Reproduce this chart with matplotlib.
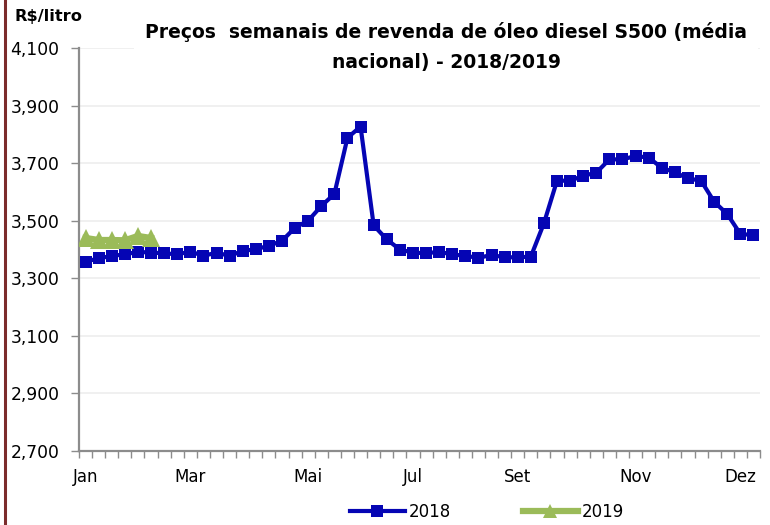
import matplotlib
matplotlib.use("Agg")
import matplotlib.pyplot as plt
from matplotlib.ticker import FixedLocator, FuncFormatter
from matplotlib.lines import Line2D

# Data (R$/litro), weekly
prices_2018 = [3.358, 3.369, 3.378, 3.383, 3.392, 3.389, 3.387, 3.383, 3.393, 3.378,
               3.389, 3.378, 3.395, 3.401, 3.413, 3.430, 3.476, 3.500, 3.551, 3.593,
               3.788, 3.827, 3.484, 3.435, 3.400, 3.389, 3.387, 3.392, 3.383, 3.378,
               3.371, 3.381, 3.373, 3.373, 3.375, 3.491, 3.639, 3.639, 3.656, 3.667,
               3.713, 3.713, 3.725, 3.719, 3.684, 3.668, 3.647, 3.639, 3.566, 3.523,
               3.454, 3.450]
prices_2019 = [3.440, 3.433, 3.433, 3.432, 3.447, 3.440]
month_labels = ["Jan", "Mar", "Mai", "Jul", "Set", "Nov", "Dez"]
month_weeks = [0, 8, 17, 25, 33, 42, 50]
y_ticks = [2.7, 2.9, 3.1, 3.3, 3.5, 3.7, 3.9, 4.1]

FONT = "DejaVu Sans"
BLUE = "#0505B4"
GREEN = "#9BBB59"
GRAY = "#8C8C8C"
plt.rcParams["font.family"] = FONT

fig = plt.figure(figsize=(7.7, 5.25), dpi=100)
W, H = 770, 525
ax = fig.add_axes([79 / W, 1 - 451 / H, (760 - 79) / W, (451 - 48) / H])

weeks18 = list(range(len(prices_2018)))
weeks19 = list(range(len(prices_2019)))

ax.plot(weeks18, prices_2018, color=BLUE, lw=3.0, marker="s", markersize=8.5,
        markeredgewidth=0, zorder=3)
ax.plot(weeks19, prices_2019, color=GREEN, lw=4.5, marker="^", markersize=12.5,
        markeredgewidth=0, zorder=4)

ax.set_xlim(-0.5, len(prices_2018) - 0.5)
ax.set_ylim(2.7, 4.1)

ax.yaxis.set_major_locator(FixedLocator(y_ticks))
ax.yaxis.set_major_formatter(FuncFormatter(lambda v, p: f"{v:.3f}".replace(".", ",")))
ax.grid(axis="y", color="#EFEFEF", lw=1.3, zorder=0)
ax.set_axisbelow(True)

ax.set_xticks(month_weeks)
ax.set_xticklabels(month_labels)
ax.set_xticks([i - 0.5 for i in range(len(prices_2018) + 1)], minor=True)
ax.tick_params(axis="x", which="major", length=0, pad=12, labelsize=12)
ax.tick_params(axis="x", which="minor", length=5, width=1, color=GRAY, direction="out")
ax.tick_params(axis="y", which="major", length=6, width=1, color=GRAY, labelsize=12.3, pad=8)

for s in ["top", "right"]:
    ax.spines[s].set_visible(False)
for s in ["left", "bottom"]:
    ax.spines[s].set_color(GRAY)
    ax.spines[s].set_linewidth(1.6)

# Title with white box covering top gridline
fig.text(446 / W, 1 - 47 / H,
         "Preços  semanais de revenda de óleo diesel S500 (média\nnacional) - 2018/2019",
         ha="center", va="center", fontsize=13.5, fontweight="bold",
         linespacing=1.78,
         bbox=dict(facecolor="white", edgecolor="none", boxstyle="square,pad=0.6"))
fig.text(15 / W, 1 - 17 / H, "R$/litro", ha="left", va="center", fontsize=11.7,
         fontweight="bold")

# left border strip
fig.add_artist(Line2D([5 / W, 5 / W], [0, 1], transform=fig.transFigure,
                      color="#7B2C2C", lw=2.2))

handles = [Line2D([], [], color=BLUE, lw=3.0, marker="s", markersize=8, markeredgewidth=0),
           Line2D([], [], color=GREEN, lw=4.5, marker="^", markersize=10, markeredgewidth=0)]
leg = fig.legend(handles, ["2018", "2019"], loc="center", ncol=2,
                 bbox_to_anchor=(487 / W, 1 - 512 / H), frameon=False,
                 handlelength=3.3, handletextpad=0.25, columnspacing=4.3,
                 prop={"size": 12})

fig.savefig("out.png", dpi=100)
